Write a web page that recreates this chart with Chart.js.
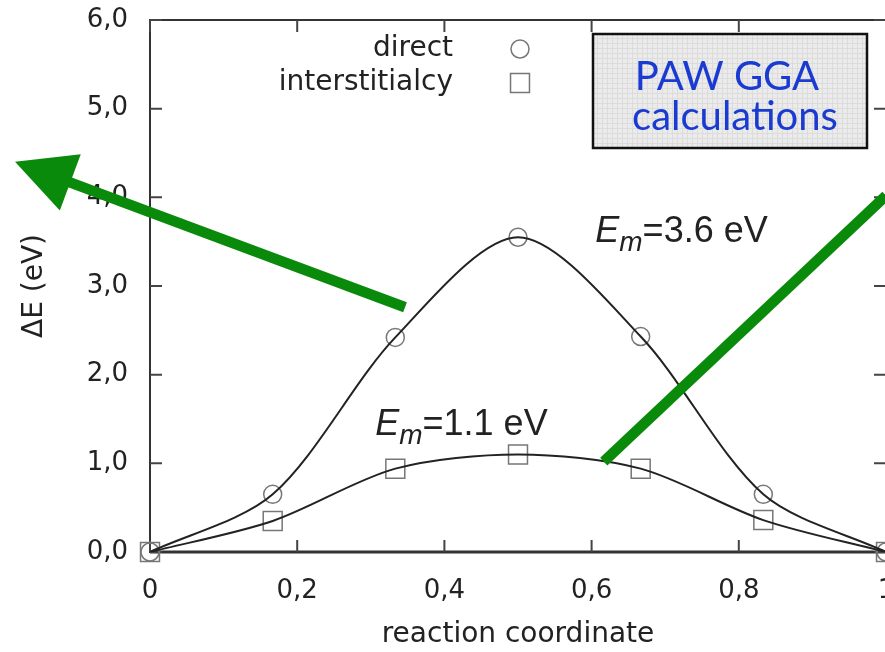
<!DOCTYPE html>
<html>
<head>
<meta charset="utf-8">
<script src="https://cdn.jsdelivr.net/npm/chart.js@4/dist/chart.umd.min.js"></script>
<style>
html, body { margin: 0; padding: 0; background: #fff; overflow: hidden; }
#wrap { position: relative; width: 930px; height: 652px; }
</style>
</head>
<body>
<div id="wrap"><canvas id="energyChart"></canvas></div>
<script>
// values
const reactionCoord = [0, 0.1667, 0.3333, 0.5, 0.6667, 0.8333, 1];
const directE = [0, 0.65, 2.42, 3.55, 2.43, 0.65, 0];
const interstitialcyE = [0, 0.35, 0.94, 1.10, 0.94, 0.36, 0];
const seriesNames = ['direct', 'interstitialcy'];
const xTickLabels = ['0', '0,2', '0,4', '0,6', '0,8', '1'];
const yTickLabels = ['0,0', '1,0', '2,0', '3,0', '4,0', '5,0', '6,0'];

const AXIS_FONT = "'DejaVu Sans'";
const INK = '#222';
const MARKER = '#777';

function points(ys) {
    return reactionCoord.map((x, i) => ({ x: x, y: ys[i] }));
}

// gnuplot style border with inward ticks on all four sides
const framePlugin = {
    id: 'frame',
    beforeDatasetsDraw(chart) {
        const { ctx, chartArea: a, scales: { x, y } } = chart;
        ctx.save();
        ctx.strokeStyle = '#333';
        ctx.lineWidth = 2;
        ctx.strokeRect(a.left, a.top, a.right - a.left, a.bottom - a.top);
        ctx.lineWidth = 3;
        ctx.beginPath();
        ctx.moveTo(a.left, a.bottom);
        ctx.lineTo(a.right, a.bottom);
        ctx.stroke();
        ctx.lineWidth = 2;
        ctx.strokeStyle = '#444';
        ctx.beginPath();
        x.ticks.forEach(t => {
            const px = x.getPixelForValue(t.value);
            ctx.moveTo(px, a.bottom); ctx.lineTo(px, a.bottom - 12);
            ctx.moveTo(px, a.top); ctx.lineTo(px, a.top + 12);
        });
        y.ticks.forEach(t => {
            const py = y.getPixelForValue(t.value);
            ctx.moveTo(a.left, py); ctx.lineTo(a.left + 12, py);
            ctx.moveTo(a.right, py); ctx.lineTo(a.right - 12, py);
        });
        ctx.stroke();
        ctx.restore();
    }
};

// key inside the plot: text right aligned, symbol on its right
const keyPlugin = {
    id: 'key',
    afterDatasetsDraw(chart) {
        const ctx = chart.ctx;
        const rows = [{ y: 49, ds: chart.data.datasets[2] }, { y: 83, ds: chart.data.datasets[3] }];
        ctx.save();
        ctx.font = "28px 'DejaVu Sans'";
        ctx.fillStyle = INK;
        ctx.textAlign = 'right';
        ctx.textBaseline = 'middle';
        rows.forEach(r => {
            ctx.fillText(r.ds.label, 453, r.y);
            ctx.strokeStyle = MARKER;
            ctx.fillStyle = 'rgba(0,0,0,0)';
            Chart.helpers.drawPoint(ctx, {
                pointStyle: r.ds.pointStyle,
                radius: r.ds.pointRadius,
                borderWidth: 1.5,
                rotation: 0
            }, 520, r.y);
            ctx.fillStyle = INK;
        });
        ctx.restore();
    }
};

function drawEm(ctx, left, base, value) {
    ctx.font = "italic 36px 'Liberation Sans'";
    ctx.fillText('E', left, base);
    let xx = left + ctx.measureText('E').width;
    ctx.font = "italic 28px 'Liberation Sans'";
    ctx.fillText('m', xx, base + 9);
    xx += ctx.measureText('m').width;
    ctx.font = "36px 'Liberation Sans'";
    ctx.fillText('=' + value + ' eV', xx, base);
}

function arrowLine(ctx, x0, y0, x1, y1, head) {
    ctx.beginPath();
    const dx = x1 - x0, dy = y1 - y0;
    const len = Math.hypot(dx, dy);
    const ux = dx / len, uy = dy / len;
    const endX = head ? x1 - ux * 50 : x1;
    const endY = head ? y1 - uy * 50 : y1;
    ctx.moveTo(x0, y0);
    ctx.lineTo(endX, endY);
    ctx.stroke();
    if (head) {
        const bx = x1 - ux * 59, by = y1 - uy * 59;
        ctx.beginPath();
        ctx.moveTo(x1, y1);
        ctx.lineTo(bx + uy * 30, by - ux * 30);
        ctx.lineTo(bx - uy * 30, by + ux * 30);
        ctx.closePath();
        ctx.fill();
    }
}

const notesPlugin = {
    id: 'notes',
    afterDraw(chart) {
        const { ctx, scales: { x, y } } = chart;
        ctx.save();
        ctx.fillStyle = INK;
        ctx.textAlign = 'left';
        ctx.textBaseline = 'alphabetic';
        drawEm(ctx, x.getPixelForValue(0.605), y.getPixelForValue(3.50), '3.6');
        drawEm(ctx, x.getPixelForValue(0.306), y.getPixelForValue(1.32), '1.1');

        // PAW GGA box
        const bx = 593, by = 34, bw = 274, bh = 114;
        ctx.fillStyle = '#ebebeb';
        ctx.fillRect(bx, by, bw, bh);
        ctx.strokeStyle = '#dcdcdc';
        ctx.lineWidth = 1;
        ctx.beginPath();
        for (let gx = bx + 4; gx < bx + bw; gx += 5) { ctx.moveTo(gx + 0.5, by); ctx.lineTo(gx + 0.5, by + bh); }
        for (let gy = by + 4; gy < by + bh; gy += 5) { ctx.moveTo(bx, gy + 0.5); ctx.lineTo(bx + bw, gy + 0.5); }
        ctx.stroke();
        ctx.strokeStyle = '#111';
        ctx.lineWidth = 2.5;
        ctx.strokeRect(bx, by, bw, bh);
        ctx.fillStyle = '#1a3bd1';
        ctx.font = "40px Lato";
        ctx.textAlign = 'center';
        ctx.fillText('PAW GGA', 727, 90);
        ctx.fillText('calculations', 735, 130);

        // green arrows
        ctx.strokeStyle = '#0a8a0a';
        ctx.fillStyle = '#0a8a0a';
        ctx.lineWidth = 10.5;
        ctx.lineCap = 'butt';
        arrowLine(ctx, x.getPixelForValue(0.3465), y.getPixelForValue(2.76),
                  x.getPixelForValue(-0.1834), y.getPixelForValue(4.40), true);
        arrowLine(ctx, x.getPixelForValue(0.6165), y.getPixelForValue(1.02),
                  x.getPixelForValue(1.0), y.getPixelForValue(4.02), false);
        ctx.restore();
    }
};

const lineStyle = {
    showLine: true,
    borderColor: INK,
    borderWidth: 2,
    tension: 0.3,
    pointRadius: 0,
    order: 1
};
const markerStyle = {
    showLine: false,
    pointBorderColor: MARKER,
    pointBackgroundColor: 'rgba(0,0,0,0)',
    pointBorderWidth: 1.5,
    clip: false,
    order: 2
};

new Chart(document.getElementById('energyChart'), {
    type: 'scatter',
    data: {
        datasets: [
            Object.assign({ label: seriesNames[0] + ' fit', data: points(directE) }, lineStyle),
            Object.assign({ label: seriesNames[1] + ' fit', data: points(interstitialcyE) }, lineStyle),
            Object.assign({ label: seriesNames[0], data: points(directE), pointStyle: 'circle', pointRadius: 9 }, markerStyle),
            Object.assign({ label: seriesNames[1], data: points(interstitialcyE), pointStyle: 'rect', pointRadius: 13.4 }, markerStyle)
        ]
    },
    options: {
        responsive: true,
        maintainAspectRatio: false,
        animation: false,
        layout: { padding: { top: 20, right: 44, left: 0, bottom: 0 } },
        plugins: { legend: { display: false }, tooltip: { enabled: false } },
        scales: {
            x: {
                type: 'linear',
                min: 0,
                max: 1,
                grid: { display: false, drawTicks: false },
                border: { display: false },
                ticks: {
                    stepSize: 0.2,
                    padding: 24,
                    color: INK,
                    font: { family: AXIS_FONT, size: 26 },
                    maxRotation: 0,
                    autoSkip: false,
                    callback: (v, i) => xTickLabels[i]
                },
                title: {
                    display: true,
                    text: 'reaction coordinate',
                    color: INK,
                    font: { family: AXIS_FONT, size: 28 },
                    padding: { top: 0, bottom: 0 }
                },
                afterFit: s => { s.height = 100; s.paddingLeft = 0; s.paddingRight = 0; }
            },
            y: {
                min: 0,
                max: 6,
                grid: { display: false, drawTicks: false },
                border: { display: false },
                ticks: {
                    stepSize: 1,
                    padding: 22,
                    color: INK,
                    font: { family: AXIS_FONT, size: 26 },
                    callback: (v, i) => yTickLabels[i]
                },
                title: {
                    display: true,
                    text: 'ΔE (eV)',
                    color: INK,
                    font: { family: AXIS_FONT, size: 28 },
                    padding: { top: 18, bottom: 0 }
                },
                afterFit: s => { s.width = 150; s.paddingTop = 0; s.paddingBottom = 0; }
            }
        }
    },
    plugins: [framePlugin, keyPlugin, notesPlugin]
});
</script>
</body>
</html>
